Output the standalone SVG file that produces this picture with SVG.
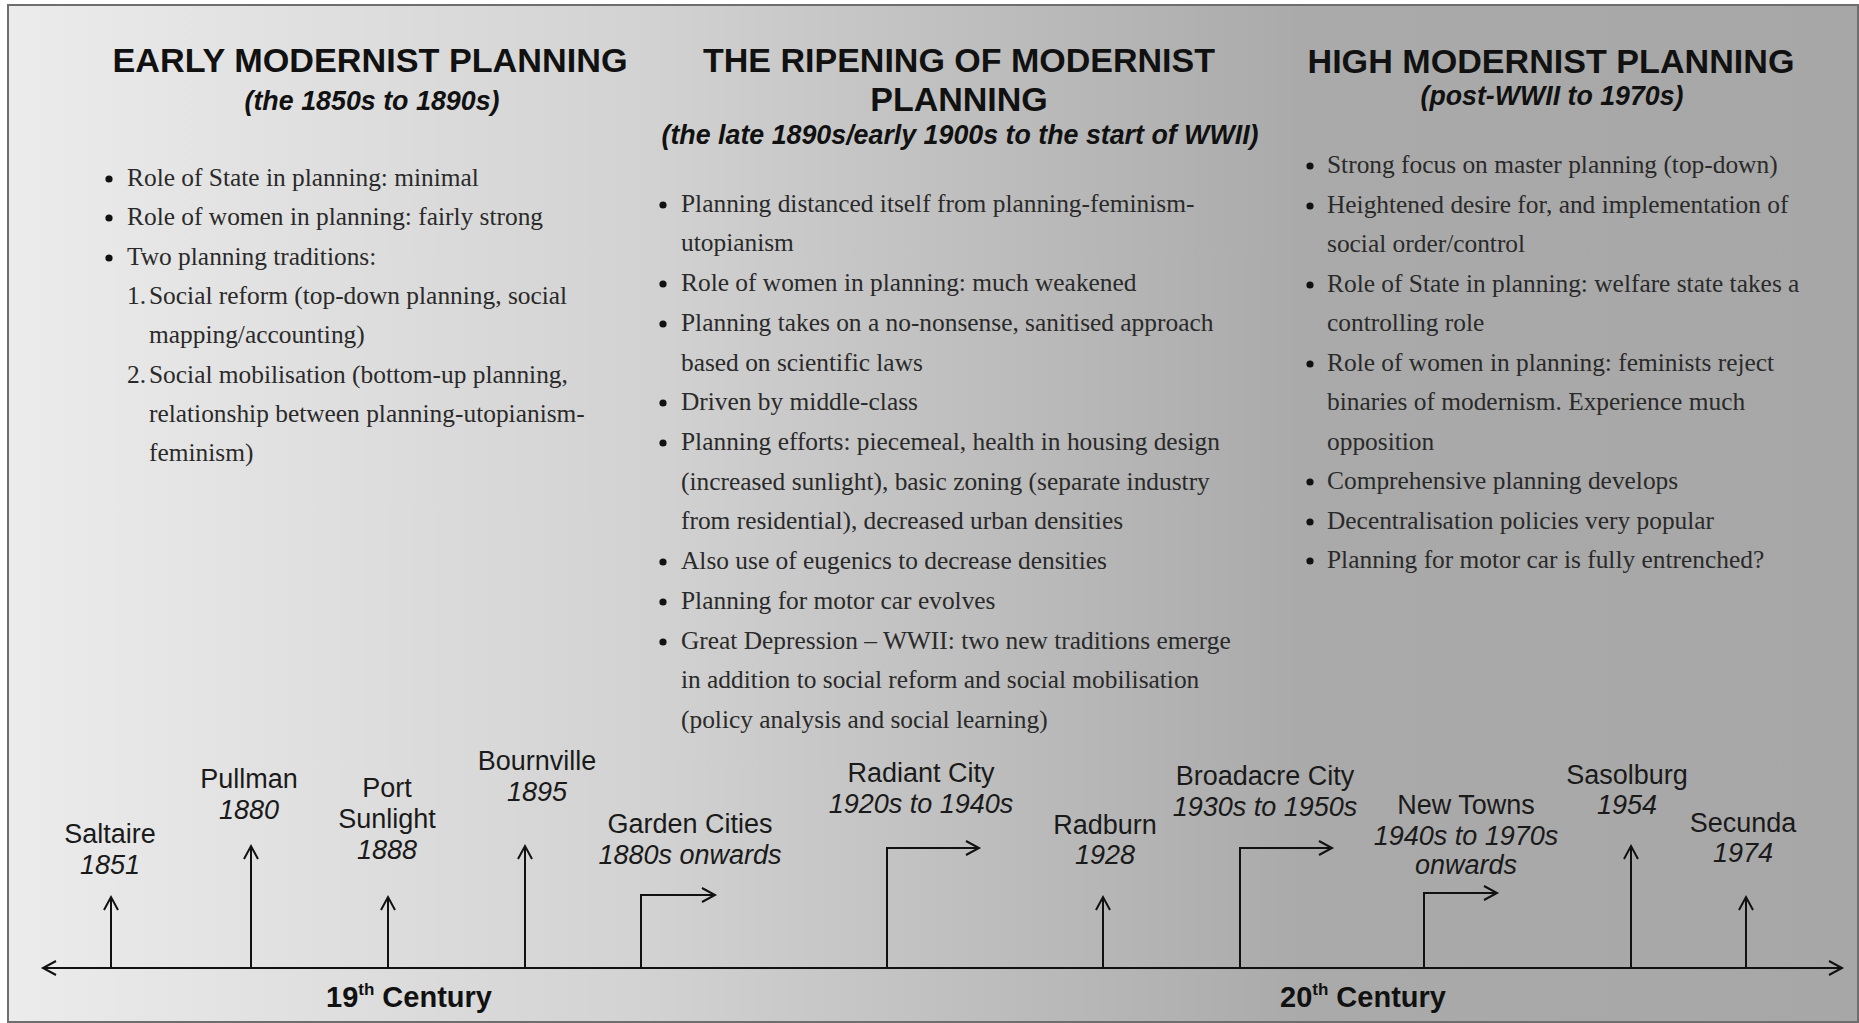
<svg xmlns="http://www.w3.org/2000/svg" width="1859" height="1023" viewBox="0 0 1859 1023">
<defs>
<linearGradient id="bg" x1="0" y1="0" x2="1859" y2="0" gradientUnits="userSpaceOnUse">
<stop offset="0" stop-color="#ececec"/>
<stop offset="0.35" stop-color="#d2d2d2"/>
<stop offset="0.70" stop-color="#aaaaaa"/>
<stop offset="1" stop-color="#a7a7a7"/>
</linearGradient>
<marker id="arr" markerUnits="userSpaceOnUse" markerWidth="18" markerHeight="18" refX="14" refY="8" orient="auto-start-reverse" viewBox="0 0 18 16">
<path d="M1,1 L14,8 L1,15" fill="none" stroke="#111" stroke-width="2"/>
</marker>
</defs>
<style>
.title{font-family:"Liberation Sans",Arial,sans-serif;font-weight:bold;font-size:34px;fill:#111;text-anchor:middle}
.sub{font-family:"Liberation Sans",Arial,sans-serif;font-weight:bold;font-style:italic;font-size:27px;fill:#111;text-anchor:middle}
.body{font-family:"Liberation Serif","Times New Roman",serif;font-size:25.4px;fill:#2a2a2a}
.dot{fill:#111}
.lbl{font-family:"Liberation Sans",Arial,sans-serif;font-size:27px;fill:#1a1a1a;text-anchor:middle}
.yr{font-style:italic}
.cent{font-family:"Liberation Sans",Arial,sans-serif;font-weight:bold;font-size:29px;fill:#111}
.ln{fill:none;stroke:#111;stroke-width:2}
</style>
<rect x="0" y="0" width="1859" height="1023" fill="#ffffff"/>
<rect x="8" y="5" width="1850" height="1017" fill="url(#bg)" stroke="#6e6e6e" stroke-width="2"/>

<g id="early-modernist">
<text class="title" x="370" y="72" textLength="515" lengthAdjust="spacingAndGlyphs">EARLY MODERNIST PLANNING</text>
<text class="sub" x="372" y="110" textLength="255" lengthAdjust="spacingAndGlyphs">(the 1850s to 1890s)</text>
<g transform="translate(0,2)">
<circle class="dot" cx="109" cy="177" r="3.6"/>
<circle class="dot" cx="109" cy="216" r="3.6"/>
<circle class="dot" cx="109" cy="256" r="3.6"/>
<text class="body" x="127" y="184">Role of State in planning: minimal</text>
<text class="body" x="127" y="223">Role of women in planning: fairly strong</text>
<text class="body" x="127" y="263">Two planning traditions:</text>
<text class="body" x="127" y="302">1.</text>
<text class="body" x="149" y="302">Social reform (top-down planning, social</text>
<text class="body" x="149" y="341">mapping/accounting)</text>
<text class="body" x="127" y="381">2.</text>
<text class="body" x="149" y="381">Social mobilisation (bottom-up planning,</text>
<text class="body" x="149" y="420">relationship between planning-utopianism-</text>
<text class="body" x="149" y="459">feminism)</text>
</g>
</g>

<g id="ripening-modernist">
<text class="title" x="959" y="72" textLength="512" lengthAdjust="spacingAndGlyphs">THE RIPENING OF MODERNIST</text>
<text class="title" x="959" y="111">PLANNING</text>
<text class="sub" x="960" y="144" textLength="597" lengthAdjust="spacingAndGlyphs">(the late 1890s/early 1900s to the start of WWII)</text>
<g transform="translate(0,3)">
<circle class="dot" cx="663" cy="202" r="3.6"/>
<circle class="dot" cx="663" cy="281" r="3.6"/>
<circle class="dot" cx="663" cy="321" r="3.6"/>
<circle class="dot" cx="663" cy="400" r="3.6"/>
<circle class="dot" cx="663" cy="440" r="3.6"/>
<circle class="dot" cx="663" cy="559" r="3.6"/>
<circle class="dot" cx="663" cy="599" r="3.6"/>
<circle class="dot" cx="663" cy="639" r="3.6"/>
<text class="body" x="681" y="209">Planning distanced itself from planning-feminism-</text>
<text class="body" x="681" y="248">utopianism</text>
<text class="body" x="681" y="288">Role of women in planning: much weakened</text>
<text class="body" x="681" y="328">Planning takes on a no-nonsense, sanitised approach</text>
<text class="body" x="681" y="368">based on scientific laws</text>
<text class="body" x="681" y="407">Driven by middle-class</text>
<text class="body" x="681" y="447">Planning efforts: piecemeal, health in housing design</text>
<text class="body" x="681" y="487">(increased sunlight), basic zoning (separate industry</text>
<text class="body" x="681" y="526">from residential), decreased urban densities</text>
<text class="body" x="681" y="566">Also use of eugenics to decrease densities</text>
<text class="body" x="681" y="606">Planning for motor car evolves</text>
<text class="body" x="681" y="646">Great Depression – WWII: two new traditions emerge</text>
<text class="body" x="681" y="685">in addition to social reform and social mobilisation</text>
<text class="body" x="681" y="725">(policy analysis and social learning)</text>
</g>
</g>

<g id="high-modernist">
<text class="title" x="1551" y="73" textLength="487" lengthAdjust="spacingAndGlyphs">HIGH MODERNIST PLANNING</text>
<text class="sub" x="1552" y="105" textLength="263" lengthAdjust="spacingAndGlyphs">(post-WWII to 1970s)</text>
<g transform="translate(0,2)">
<circle class="dot" cx="1310" cy="164" r="3.6"/>
<circle class="dot" cx="1310" cy="204" r="3.6"/>
<circle class="dot" cx="1310" cy="283" r="3.6"/>
<circle class="dot" cx="1310" cy="362" r="3.6"/>
<circle class="dot" cx="1310" cy="480" r="3.6"/>
<circle class="dot" cx="1310" cy="520" r="3.6"/>
<circle class="dot" cx="1310" cy="559" r="3.6"/>
<text class="body" x="1327" y="171">Strong focus on master planning (top-down)</text>
<text class="body" x="1327" y="211">Heightened desire for, and implementation of</text>
<text class="body" x="1327" y="250">social order/control</text>
<text class="body" x="1327" y="290">Role of State in planning: welfare state takes a</text>
<text class="body" x="1327" y="329">controlling role</text>
<text class="body" x="1327" y="369">Role of women in planning: feminists reject</text>
<text class="body" x="1327" y="408">binaries of modernism. Experience much</text>
<text class="body" x="1327" y="448">opposition</text>
<text class="body" x="1327" y="487">Comprehensive planning develops</text>
<text class="body" x="1327" y="527">Decentralisation policies very popular</text>
<text class="body" x="1327" y="566">Planning for motor car is fully entrenched?</text>
</g>
</g>

<g id="saltaire"><text class="lbl" x="110" y="843">Saltaire</text><text class="lbl yr" x="110" y="874">1851</text></g>
<g id="pullman"><text class="lbl" x="249" y="788">Pullman</text><text class="lbl yr" x="249" y="819">1880</text></g>
<g id="port-sunlight"><text class="lbl" x="387" y="797">Port</text><text class="lbl" x="387" y="828">Sunlight</text><text class="lbl yr" x="387" y="859">1888</text></g>
<g id="bournville"><text class="lbl" x="537" y="770">Bournville</text><text class="lbl yr" x="537" y="801">1895</text></g>
<g id="garden-cities"><text class="lbl" x="690" y="833">Garden Cities</text><text class="lbl yr" x="690" y="864">1880s onwards</text></g>
<g id="radiant-city"><text class="lbl" x="921" y="782">Radiant City</text><text class="lbl yr" x="921" y="813">1920s to 1940s</text></g>
<g id="radburn"><text class="lbl" x="1105" y="834">Radburn</text><text class="lbl yr" x="1105" y="864">1928</text></g>
<g id="broadacre-city"><text class="lbl" x="1265" y="785">Broadacre City</text><text class="lbl yr" x="1265" y="816">1930s to 1950s</text></g>
<g id="new-towns"><text class="lbl" x="1466" y="814">New Towns</text><text class="lbl yr" x="1466" y="845">1940s to 1970s</text><text class="lbl yr" x="1466" y="874">onwards</text></g>
<g id="sasolburg"><text class="lbl" x="1627" y="784">Sasolburg</text><text class="lbl yr" x="1627" y="814">1954</text></g>
<g id="secunda"><text class="lbl" x="1743" y="832">Secunda</text><text class="lbl yr" x="1743" y="862">1974</text></g>

<g id="century-19"><text class="cent" x="326" y="1007">19<tspan font-size="17" dy="-12">th</tspan><tspan dy="12"> Century</tspan></text></g>
<g id="century-20"><text class="cent" x="1280" y="1007">20<tspan font-size="17" dy="-12">th</tspan><tspan dy="12"> Century</tspan></text></g>

<g id="connectors">
<path class="ln" d="M43,968 H1842" marker-start="url(#arr)" marker-end="url(#arr)"/>
<path class="ln" d="M111,968 V897" marker-end="url(#arr)"/>
<path class="ln" d="M251,968 V846" marker-end="url(#arr)"/>
<path class="ln" d="M388,968 V897" marker-end="url(#arr)"/>
<path class="ln" d="M525,968 V846" marker-end="url(#arr)"/>
<path class="ln" d="M641,968 V895 H715" marker-end="url(#arr)"/>
<path class="ln" d="M887,968 V848 H979" marker-end="url(#arr)"/>
<path class="ln" d="M1103,968 V897" marker-end="url(#arr)"/>
<path class="ln" d="M1240,968 V848 H1332" marker-end="url(#arr)"/>
<path class="ln" d="M1424,968 V893 H1497" marker-end="url(#arr)"/>
<path class="ln" d="M1631,968 V846" marker-end="url(#arr)"/>
<path class="ln" d="M1746,968 V897" marker-end="url(#arr)"/>
</g>
</svg>
